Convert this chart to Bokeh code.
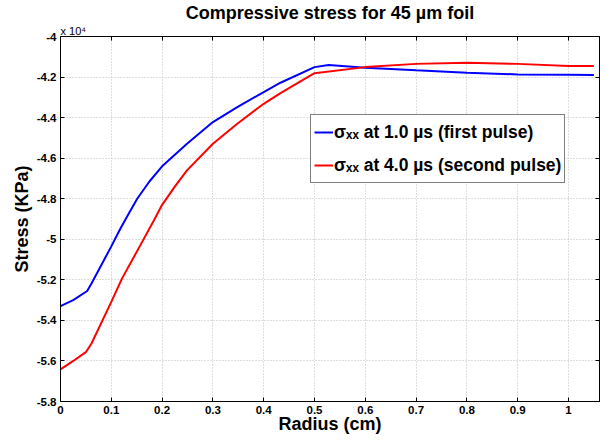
from bokeh.plotting import figure
from bokeh.models import (Range1d, FixedTicker, CustomJSTickFormatter, LinearAxis,
                          Legend, LegendItem, Title)
from bokeh.embed import file_html
from bokeh.resources import INLINE

# data (stress in units of 1e4 KPa)
r_first = [0, 0.025, 0.0525, 0.061, 0.1, 0.118, 0.135, 0.151, 0.175, 0.2, 0.249, 0.3,
           0.348, 0.4, 0.433, 0.5, 0.528, 0.6, 0.7, 0.8, 0.9, 1.0, 1.05]
s_first = [-5.33, -5.30, -5.255, -5.218, -5.035, -4.947, -4.87, -4.80, -4.715, -4.64,
           -4.529, -4.422, -4.348, -4.274, -4.228, -4.151, -4.141, -4.154, -4.167,
           -4.179, -4.187, -4.189, -4.19]
r_second = [0, 0.025, 0.0505, 0.061, 0.1, 0.121, 0.157, 0.184, 0.2, 0.225, 0.249, 0.3,
            0.348, 0.4, 0.433, 0.5, 0.6, 0.7, 0.8, 0.9, 1.0, 1.05]
s_second = [-5.642, -5.60, -5.555, -5.514, -5.309, -5.194, -5.03, -4.906, -4.83, -4.74,
            -4.66, -4.529, -4.43, -4.332, -4.279, -4.181, -4.151, -4.135, -4.13, -4.135,
            -4.145, -4.146]
x_ticks = [0, 0.1, 0.2, 0.3, 0.4, 0.5, 0.6, 0.7, 0.8, 0.9, 1.0]
y_ticks = [-5.8, -5.6, -5.4, -5.2, -5.0, -4.8, -4.6, -4.4, -4.2, -4.0]
label_first = "σₓₓ at 1.0 µs (first pulse)"
label_second = "σₓₓ at 4.0 µs (second pulse)"
title_text = "Compressive stress for 45 µm foil"
scale_text = "x 10⁴"

FONT = "Liberation Sans"

p = figure(width=616, height=441, output_backend="svg", toolbar_location=None,
           x_range=Range1d(0, 1.061), y_range=Range1d(-5.8, -4.0),
           min_border_left=60, min_border_right=17, min_border_top=36,
           min_border_bottom=40, border_fill_color="white")
p.title.text = title_text
p.title.text_font = FONT
p.title.text_font_size = "18px"
p.title.text_font_style = "bold"
p.title.text_color = "black"
p.title.align = "center"
p.title.standoff = 0

fmt = CustomJSTickFormatter(code="return (Math.round(tick*10)/10).toString();")
blank = CustomJSTickFormatter(code="return '';")

p.xaxis.ticker = FixedTicker(ticks=x_ticks)
p.yaxis.ticker = FixedTicker(ticks=y_ticks)
p.xaxis.formatter = fmt
p.yaxis.formatter = fmt
p.xaxis.axis_label = "Radius (cm)"
p.yaxis.axis_label = "Stress (KPa)"
for ax in (p.xaxis[0], p.yaxis[0]):
    ax.axis_label_text_font = FONT
    ax.axis_label_text_font_size = "18px"
    ax.axis_label_text_font_style = "bold"
    ax.axis_label_text_color = "black"
    ax.major_label_text_font = FONT
    ax.major_label_text_font_size = "11.5px"
    ax.major_label_text_font_style = "bold"
    ax.major_label_text_color = "black"
    ax.major_tick_in = 4
    ax.major_tick_out = 0
    ax.minor_tick_in = 0
    ax.minor_tick_out = 0
    ax.axis_line_color = "black"
    ax.major_tick_line_color = "black"
    ax.major_label_standoff = 4
    ax.axis_label_standoff = 2
p.xaxis.axis_label_standoff = -3

# inward ticks on top and right (no labels)
for loc, tk in (("above", x_ticks), ("right", y_ticks)):
    a = LinearAxis(ticker=FixedTicker(ticks=tk), formatter=blank,
                   major_tick_in=4, major_tick_out=0, minor_tick_in=0, minor_tick_out=0,
                   major_label_standoff=0, axis_line_color="black",
                   major_tick_line_color="black")
    p.add_layout(a, loc)

# exponent note at the top-left of the axes
p.add_layout(Title(text=scale_text, align="left", text_font=FONT,
                   text_font_size="11px", text_font_style="normal",
                   text_color="black", standoff=0), "above")

p.grid.grid_line_color = "#bdbdbd"
p.grid.grid_line_dash = "1 2"
p.grid.grid_line_width = 1
p.xgrid.ticker = FixedTicker(ticks=x_ticks)
p.ygrid.ticker = FixedTicker(ticks=y_ticks)
p.outline_line_color = "black"

l1 = p.line(r_first, s_first, line_color="#0000ff", line_width=2)
l2 = p.line(r_second, s_second, line_color="#ff0000", line_width=2)

legend = Legend(items=[LegendItem(label=label_first, renderers=[l1]),
                       LegendItem(label=label_second, renderers=[l2])],
                location=(250, 218), label_text_font=FONT,
                label_text_font_size="17.5px", label_text_font_style="bold",
                label_text_color="black",
                glyph_width=19, glyph_height=28, label_height=28, spacing=5,
                padding=3, margin=0, label_standoff=1,
                border_line_color="black", border_line_width=1,
                background_fill_color="white", background_fill_alpha=1)
p.add_layout(legend, "center")

open("out.html", "w").write(file_html(p, INLINE))
